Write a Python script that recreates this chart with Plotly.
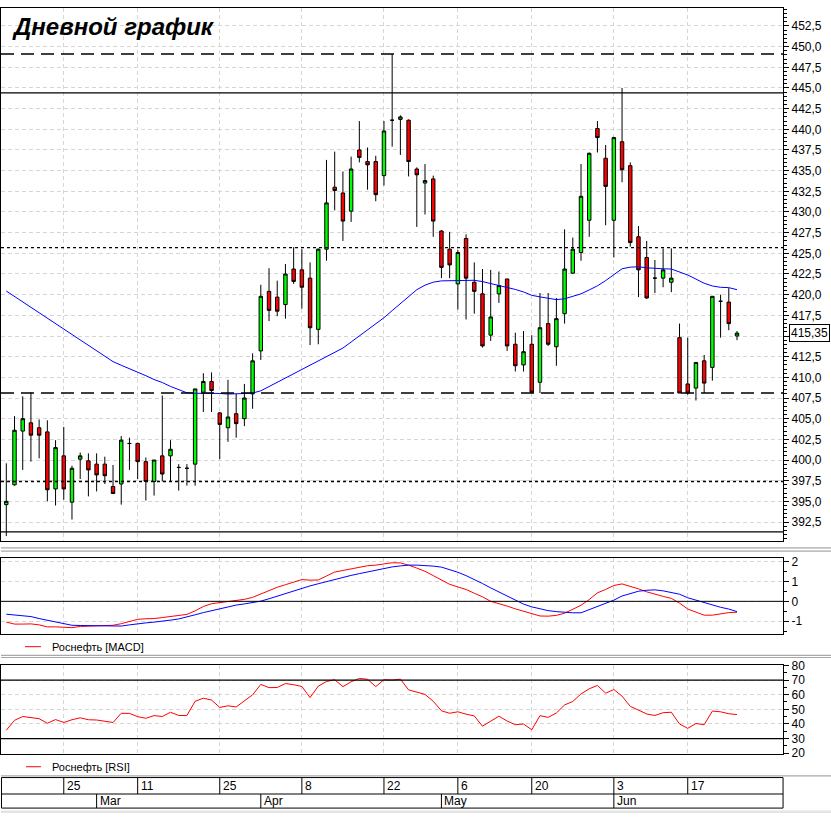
import plotly.graph_objects as go

# ---------------- data ----------------
candle_idx = list(range(90))
opens = [394.6, 397.0, 403.5, 404.5, 403.9, 403.4, 396.5, 400.5, 394.9, 400.1,
         399.9, 399.5, 399.5, 396.8, 397.1, 402.0, 402.0, 399.8, 397.4, 400.5,
         400.5, 399.1, 399.0, 399.5, 408.2, 409.5, 405.7, 403.9, 405.6, 405.0,
         408.0, 413.2, 420.4, 419.7, 418.8, 423.1, 423.0, 422.0, 415.8, 425.5,
         433.0, 432.3, 430.1, 437.5, 436.1, 436.1, 434.4, 441.1, 441.2, 441.1,
         435.2, 433.5, 434.0, 427.7, 425.5, 421.3, 426.8, 421.5, 420.1, 415.1,
         420.1, 421.9, 414.0, 411.5, 414.0, 409.4, 416.5, 413.7, 417.7, 422.6,
         425.1, 429.0, 440.1, 436.5, 429.0, 438.5, 435.6, 427.0, 424.5, 422.0,
         422.0, 421.5, 414.8, 409.2, 408.7, 412.0, 411.2, 419.2, 419.1, 415.0]
highs = [399.6, 405.3, 407.7, 408.2, 404.9, 404.8, 402.4, 404.0, 399.3, 400.9,
         400.8, 400.8, 400.4, 399.4, 402.9, 402.7, 402.1, 400.3, 400.0, 407.8,
         402.4, 399.5, 399.5, 408.6, 410.5, 410.6, 405.8, 409.7, 408.0, 409.2,
         412.9, 421.2, 423.2, 421.7, 423.7, 425.75, 425.5, 423.9, 425.6, 436.3,
         437.3, 434.9, 436.7, 441.0, 437.8, 436.8, 441.0, 449.1, 441.7, 441.2,
         435.4, 435.8, 434.4, 427.8, 427.6, 425.4, 427.3, 423.9, 423.1, 423.0,
         422.8, 421.9, 415.4, 415.6, 415.1, 420.2, 420.2, 419.6, 427.9, 426.9,
         435.8, 437.2, 441.0, 438.1, 439.1, 445.0, 436.0, 428.3, 426.5, 424.2,
         425.6, 425.6, 416.5, 414.8, 411.8, 412.7, 419.8, 420.0, 420.8, 415.6]
lows = [390.8, 396.9, 398.8, 399.8, 400.2, 395.0, 394.5, 395.2, 392.8, 397.7,
        395.6, 396.2, 397.1, 395.9, 394.6, 398.8, 397.7, 395.1, 395.7, 397.4,
        397.4, 396.3, 396.9, 396.9, 405.8, 405.8, 400.1, 402.2, 402.7, 404.1,
        406.2, 412.1, 416.8, 417.4, 417.1, 421.3, 418.3, 413.9, 414.0, 424.1,
        430.2, 426.5, 428.8, 436.0, 432.7, 431.3, 433.2, 437.9, 436.9, 434.3,
        428.2, 429.7, 427.0, 422.0, 422.0, 418.2, 417.0, 417.7, 413.6, 414.4,
        419.0, 413.2, 410.7, 410.7, 408.1, 408.1, 413.8, 411.4, 416.5, 422.5,
        424.1, 427.0, 437.2, 428.4, 424.5, 433.6, 425.8, 419.7, 419.5, 420.2,
        420.9, 420.3, 408.1, 407.9, 407.2, 408.1, 409.6, 414.8, 415.7, 414.5]
closes = [395.0, 403.6, 405.0, 403.0, 403.0, 396.4, 401.5, 396.5, 399.0, 400.5,
          398.8, 398.2, 398.1, 395.95, 402.4, 402.0, 399.8, 397.4, 400.0, 398.3,
          401.3, 399.1, 399.0, 408.6, 409.5, 408.4, 404.3, 405.2, 404.4, 407.5,
          412.0, 419.8, 418.1, 418.0, 422.5, 421.6, 420.9, 416.0, 425.5, 431.1,
          432.6, 428.9, 435.2, 436.6, 435.7, 432.1, 439.8, 441.1, 441.5, 436.1,
          434.5, 433.8, 428.9, 423.3, 423.6, 425.1, 422.0, 420.4, 413.8, 417.3,
          421.1, 413.8, 411.4, 413.1, 408.2, 416.0, 414.0, 417.1, 423.1, 425.5,
          431.9, 437.1, 439.0, 433.1, 439.0, 435.1, 426.3, 423.0, 419.6, 422.0,
          423.0, 422.0, 408.1, 408.1, 411.8, 409.3, 419.8, 419.2, 416.5, 415.35]
moving_avg = [420.44, 419.79, 419.13, 418.48, 417.81, 417.15, 416.5, 415.85, 415.19, 414.54,
              413.88, 413.23, 412.57, 411.9, 411.46, 411.06, 410.68, 410.2, 409.73, 409.37,
              408.9, 408.49, 408.13, 408.07, 408.07, 408.1, 408.05, 407.98, 407.98, 408.04,
              408.1, 408.37, 408.88, 409.39, 409.89, 410.4, 410.92, 411.43, 411.93, 412.44,
              412.96, 413.54, 414.27, 415.01, 415.74, 416.48, 417.21, 418.07, 418.92, 419.76,
              420.6, 421.15, 421.51, 421.67, 421.7, 421.74, 421.76, 421.74, 421.58, 421.35,
              421.05, 420.81, 420.63, 420.33, 419.92, 419.73, 419.56, 419.4, 419.5, 419.76,
              420.1, 420.57, 421.07, 421.7, 422.36, 423.13, 423.33, 423.37, 423.25, 423.17,
              423.13, 423.1, 422.77, 422.38, 421.88, 421.38, 421.05, 420.89, 420.85, 420.6]
macd_values = [-1.05, -1.15, -1.15, -1.14, -1.19, -1.29, -1.29, -1.32, -1.33, -1.27,
               -1.25, -1.25, -1.24, -1.21, -1.13, -1.01, -0.91, -0.88, -0.87, -0.82,
               -0.76, -0.71, -0.66, -0.48, -0.26, -0.12, -0.07, -0.02, 0.02, 0.1,
               0.2, 0.37, 0.57, 0.71, 0.84, 0.97, 1.1, 1.07, 1.08, 1.28,
               1.48, 1.56, 1.63, 1.71, 1.8, 1.83, 1.89, 1.95, 1.94, 1.83,
               1.68, 1.52, 1.3, 1.06, 0.86, 0.73, 0.6, 0.41, 0.23, 0.0,
               -0.11, -0.24, -0.38, -0.5, -0.6, -0.74, -0.75, -0.71, -0.6, -0.42,
               -0.2, 0.09, 0.43, 0.6, 0.8, 0.88, 0.77, 0.63, 0.48, 0.35,
               0.25, 0.15, -0.09, -0.39, -0.53, -0.7, -0.7, -0.62, -0.57, -0.55]
signal_values = [-0.65, -0.68, -0.73, -0.77, -0.87, -0.96, -1.04, -1.15, -1.21, -1.22,
                 -1.23, -1.25, -1.25, -1.25, -1.25, -1.19, -1.13, -1.09, -1.05, -1.01,
                 -0.95, -0.89, -0.8, -0.68, -0.57, -0.47, -0.37, -0.29, -0.19, -0.13,
                 -0.06, 0.01, 0.13, 0.26, 0.4, 0.55, 0.66, 0.78, 0.89, 1.0,
                 1.11, 1.22, 1.31, 1.4, 1.49, 1.57, 1.66, 1.74, 1.79, 1.83,
                 1.83, 1.82, 1.78, 1.73, 1.61, 1.47, 1.3, 1.12, 0.9, 0.68,
                 0.47, 0.26, 0.05, -0.14, -0.28, -0.39, -0.47, -0.52, -0.56, -0.58,
                 -0.58, -0.43, -0.28, -0.1, 0.06, 0.27, 0.38, 0.51, 0.56, 0.58,
                 0.53, 0.45, 0.36, 0.18, 0.06, -0.08, -0.2, -0.3, -0.39, -0.52]
rsi_values = [35.7, 42.5, 45.1, 44.1, 43.6, 40.5, 43.0, 41.0, 42.9, 44.2,
              42.9, 42.7, 42.1, 41.0, 47.3, 47.2, 45.0, 43.9, 45.7, 45.1,
              48.0, 45.8, 45.8, 55.5, 57.6, 56.3, 51.3, 52.4, 51.6, 55.8,
              59.9, 67.0, 64.8, 64.9, 67.6, 66.8, 65.6, 58.0, 65.8, 69.0,
              70.2, 65.5, 68.8, 71.1, 70.5, 65.5, 70.2, 70.0, 70.6, 63.3,
              61.5, 60.2, 55.5, 49.0, 47.3, 48.3, 46.7, 45.5, 38.5, 42.0,
              45.3, 42.0, 39.5, 40.0, 36.0, 45.7, 44.5, 47.5, 53.0, 55.4,
              60.5, 64.0, 66.3, 61.0, 63.5, 59.0, 52.0, 49.5, 46.8, 45.8,
              47.7, 48.0, 40.0, 37.0, 40.3, 39.5, 48.8, 48.3, 47.0, 46.4]

level_long_dash = [449.1, 408.1]
level_solid = [444.4, 391.3]
level_dotted = [425.7, 397.4]
macd_zero = [0]
rsi_bounds = [70, 30]
last_price = 415.35

price_tick_values = [392.5, 395.0, 397.5, 400.0, 402.5, 405.0, 407.5, 410.0, 412.5, 415.0,
                     417.5, 420.0, 422.5, 425.0, 427.5, 430.0, 432.5, 435.0, 437.5, 440.0,
                     442.5, 445.0, 447.5, 450.0, 452.5]
day_tick_idx = [7, 16, 26, 36, 46, 55, 64, 74, 83]
day_tick_labels = ["25", "11", "25", "8", "22", "6", "20", "3", "17"]
month_idx = [11, 31, 53, 74]
month_labels = ["Mar", "Apr", "May", "Jun"]
macd_ticks = [-1, 0, 1, 2]
macd_tick_labels = ["-1", "0", "1", "2"]
rsi_ticks = [20, 30, 40, 50, 60, 70, 80]

title_text = "Дневной график"
macd_legend = "Роснефть [MACD]"
rsi_legend = "Роснефть [RSI]"

# ---------------- layout helpers ----------------
W, H = 831, 820
FONT = "Liberation Sans, Arial, sans-serif"


def py(ypx):
    return 1 - ypx / H


def pxx(xpx):
    return xpx / W


def fmt_price(v):
    return f"{v:.1f}".replace(".", ",")


# the boxed last price hides the tick label it covers
price_tick_text = ["" if abs(v - last_price) < 1.2 else fmt_price(v) for v in price_tick_values]

X_RANGE = [-0.645, 94.61]
X_DOMAIN = [0, 783 / W]
GRID = "#d6d6d6"

fig = go.Figure()

fig.add_trace(go.Candlestick(
    x=candle_idx, open=opens, high=highs, low=lows, close=closes,
    increasing=dict(fillcolor="#00ff00", line=dict(color="black", width=1)),
    decreasing=dict(fillcolor="#ff0000", line=dict(color="black", width=1)),
    whiskerwidth=0, xaxis="x", yaxis="y", hoverinfo="skip"))
fig.add_trace(go.Scatter(x=candle_idx, y=moving_avg, mode="lines",
                         line=dict(color="#0000ff", width=1), xaxis="x", yaxis="y"))
fig.add_trace(go.Scatter(x=candle_idx, y=macd_values, mode="lines",
                         line=dict(color="#ff0000", width=1), xaxis="x2", yaxis="y2"))
fig.add_trace(go.Scatter(x=candle_idx, y=signal_values, mode="lines",
                         line=dict(color="#0000ff", width=1), xaxis="x2", yaxis="y2"))
fig.add_trace(go.Scatter(x=candle_idx, y=rsi_values, mode="lines",
                         line=dict(color="#ff0000", width=1), xaxis="x3", yaxis="y3"))

xcommon = dict(range=X_RANGE, domain=X_DOMAIN, tickmode="array", tickvals=day_tick_idx,
               showticklabels=False, ticks="", showgrid=True, gridcolor=GRID,
               griddash="4px,3px", gridwidth=1, showline=True, mirror=True,
               linecolor="black", linewidth=1, zeroline=False, fixedrange=True)
ycommon = dict(side="right", ticks="outside", ticklen=5, tickcolor="black", tickwidth=1,
               showgrid=True, gridcolor=GRID, griddash="4px,3px", gridwidth=1,
               showline=True, mirror=True, linecolor="black", linewidth=1,
               zeroline=False, tickfont=dict(family=FONT, size=12, color="black"),
               fixedrange=True)

fig.update_layout(
    width=W, height=H, margin=dict(l=0, r=0, t=0, b=0),
    paper_bgcolor="white", plot_bgcolor="white", showlegend=False,
    separators=", ", font=dict(family=FONT, size=12, color="black"),
    boxgap=0.4,
    xaxis=dict(**xcommon, anchor="y", rangeslider=dict(visible=False)),
    xaxis2=dict(**xcommon, anchor="y2", matches="x"),
    xaxis3=dict(**xcommon, anchor="y3", matches="x"),
    yaxis=dict(**ycommon, anchor="x", domain=[py(543.3), py(2.5)], range=[390.24, 454.62],
               tickmode="array", tickvals=price_tick_values, ticktext=price_tick_text,
               minor=dict(tickmode="linear", tick0=0, dtick=0.5, ticklen=3, ticks="outside",
                          tickcolor="black", showgrid=False)),
    yaxis2=dict(**ycommon, anchor="x2", domain=[py(638.3), py(561.3)], range=[-1.66, 2.17],
                tickmode="array", tickvals=macd_ticks, ticktext=macd_tick_labels,
                minor=dict(tickmode="linear", tick0=0, dtick=0.5, ticklen=3, ticks="outside",
                           tickcolor="black", showgrid=False)),
    yaxis3=dict(**ycommon, anchor="x3", domain=[py(760), py(669.3)], range=[19.53, 80.47],
                tickmode="array", tickvals=rsi_ticks,
                minor=dict(tickmode="linear", tick0=0, dtick=5, ticklen=3, ticks="outside",
                           tickcolor="black", showgrid=False)),
)

shapes = []
for lv in level_long_dash:
    shapes.append(dict(type="line", xref="x domain", yref="y", x0=0, x1=1, y0=lv, y1=lv,
                       line=dict(color="black", width=1.5, dash="13px,7px")))
for lv in level_solid:
    shapes.append(dict(type="line", xref="x domain", yref="y", x0=0, x1=1, y0=lv, y1=lv,
                       line=dict(color="black", width=1.2)))
for lv in level_dotted:
    shapes.append(dict(type="line", xref="x domain", yref="y", x0=0, x1=1, y0=lv, y1=lv,
                       line=dict(color="black", width=1.3, dash="3px,3px")))
for lv in macd_zero:
    shapes.append(dict(type="line", xref="x2 domain", yref="y2", x0=0, x1=1, y0=lv, y1=lv,
                       line=dict(color="black", width=1)))
for lv in rsi_bounds:
    shapes.append(dict(type="line", xref="x3 domain", yref="y3", x0=0, x1=1, y0=lv, y1=lv,
                       line=dict(color="black", width=1.2)))

# grey panel separators
for ysep in [550.7, 554.0, 659.8, 662.0, 782.3]:
    shapes.append(dict(type="line", xref="paper", yref="paper", x0=0, x1=1,
                       y0=py(ysep), y1=py(ysep), line=dict(color="#a8a8a8", width=1.2)))
shapes.append(dict(type="rect", xref="paper", yref="paper", x0=0, x1=1, y0=0, y1=py(817.5),
                   line=dict(width=0), fillcolor="#e4e4e4"))

# bottom date axis box
ax_top, ax_mid, ax_bot = 784.0, 800.7, 815.0
shapes.append(dict(type="rect", xref="paper", yref="paper", x0=pxx(0.5), x1=X_DOMAIN[1],
                   y0=py(ax_bot), y1=py(ax_top), line=dict(color="black", width=1)))
shapes.append(dict(type="line", xref="paper", yref="paper", x0=0, x1=X_DOMAIN[1],
                   y0=py(ax_mid), y1=py(ax_mid), line=dict(color="black", width=1)))
for xi in day_tick_idx:
    shapes.append(dict(type="line", xref="x", yref="paper", x0=xi, x1=xi,
                       y0=py(ax_top), y1=py(ax_mid), line=dict(color="black", width=1)))
for xi in month_idx:
    shapes.append(dict(type="line", xref="x", yref="paper", x0=xi, x1=xi,
                       y0=py(ax_mid), y1=py(ax_bot), line=dict(color="black", width=1)))

# legend samples
shapes.append(dict(type="line", xref="paper", yref="paper", x0=pxx(24), x1=pxx(40),
                   y0=py(651), y1=py(651), line=dict(color="#ff0000", width=1)))
shapes.append(dict(type="line", xref="paper", yref="paper", x0=pxx(25), x1=pxx(40),
                   y0=py(773), y1=py(773), line=dict(color="#ff0000", width=1)))

annotations = []
annotations.append(dict(text="<b><i>" + title_text + "</i></b>", xref="paper", yref="paper",
                        x=pxx(9), y=py(21), xanchor="left", yanchor="middle", showarrow=False,
                        font=dict(family=FONT, size=24, color="black")))
annotations.append(dict(text=f"{last_price:.2f}".replace(".", ","), xref="paper", yref="y",
                        x=pxx(789), y=last_price, xanchor="left", yanchor="middle",
                        showarrow=False, bgcolor="white", bordercolor="black", borderwidth=1,
                        borderpad=1, font=dict(family=FONT, size=12, color="black")))
annotations.append(dict(text=macd_legend, xref="paper", yref="paper", x=pxx(49), y=py(651),
                        xanchor="left", yanchor="middle", showarrow=False,
                        font=dict(family=FONT, size=11, color="black")))
annotations.append(dict(text=rsi_legend, xref="paper", yref="paper", x=pxx(49), y=py(773),
                        xanchor="left", yanchor="middle", showarrow=False,
                        font=dict(family=FONT, size=11, color="black")))
for xi, lab in zip(day_tick_idx, day_tick_labels):
    annotations.append(dict(text=lab, xref="x", yref="paper", x=xi, y=py(792.5),
                            xanchor="left", yanchor="middle", xshift=1, showarrow=False,
                            font=dict(family=FONT, size=12, color="black")))
for xi, lab in zip(month_idx, month_labels):
    annotations.append(dict(text=lab, xref="x", yref="paper", x=xi, y=py(808),
                            xanchor="left", yanchor="middle", xshift=1, showarrow=False,
                            font=dict(family=FONT, size=12, color="black")))

fig.update_layout(shapes=shapes, annotations=annotations)

fig.write_html("out.html", config={"displayModeBar": False})

# make the page exactly the figure size (no default body margin)
with open("out.html", "r", encoding="utf-8") as f:
    page = f.read()
page = page.replace("<head>", "<head><style>html,body{margin:0;padding:0;overflow:hidden;}</style>", 1)
with open("out.html", "w", encoding="utf-8") as f:
    f.write(page)
